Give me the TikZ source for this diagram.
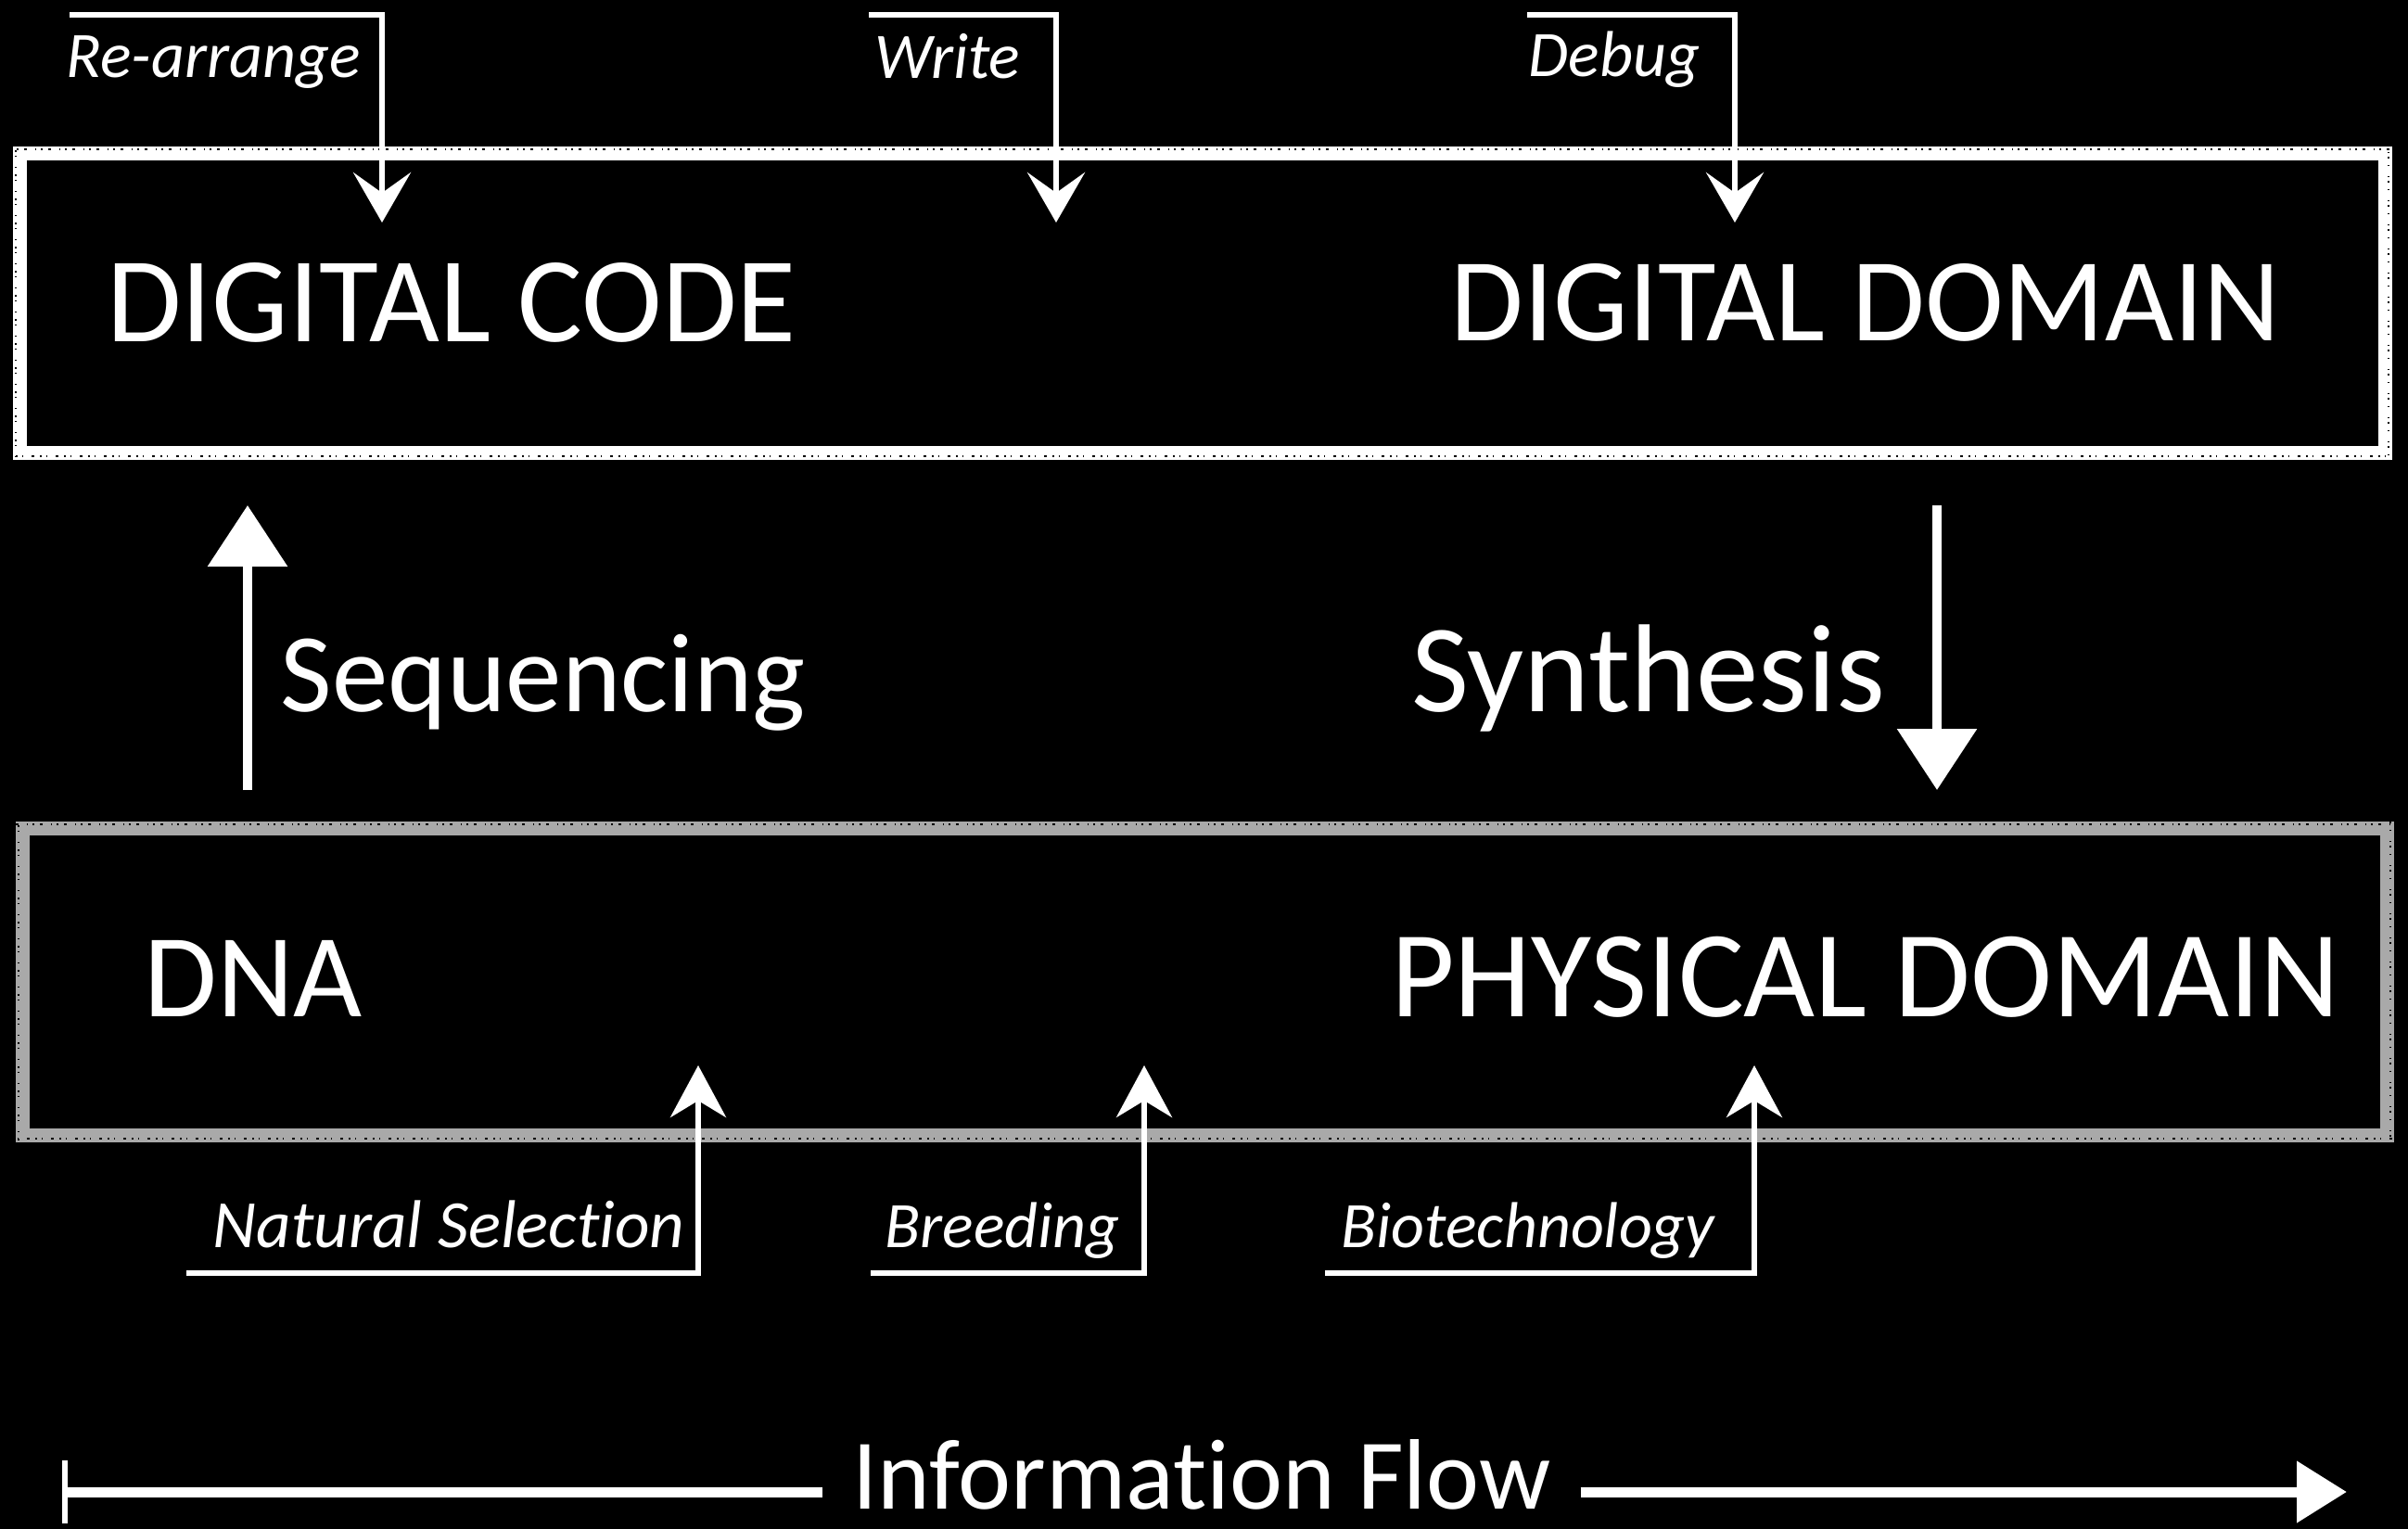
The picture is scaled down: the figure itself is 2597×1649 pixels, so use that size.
\documentclass[tikz,border=0pt]{standalone}
\usepackage{fontspec}
\setmainfont[Ligatures={NoCommon}]{Carlito}
\usetikzlibrary{arrows.meta}
\definecolor{chalkgray}{HTML}{A9A9A9}
\tikzset{
  bigtxt/.style={text=white, inner sep=0pt, anchor=base, font=\fontsize{128}{128}\selectfont},
  smalltxt/.style={text=white, inner sep=0pt, anchor=base, font=\fontsize{70}{70}\selectfont\itshape},
  flowtxt/.style={text=white, inner ysep=0pt, inner xsep=32pt, anchor=base, font=\fontsize{108}{108}\selectfont},
  boxtop/.style={draw=white, line width=15pt, minimum width=2551pt, minimum height=323pt, inner sep=0pt},
  boxbot/.style={draw=chalkgray, line width=15pt, minimum width=2550pt, minimum height=331pt, inner sep=0pt},
  grain/.style={draw=black, line width=1.6pt, dash pattern=on 2pt off 5pt on 1pt off 9pt on 3pt off 6pt},
  grainb/.style={draw=black, line width=1.2pt, dash pattern=on 1pt off 7pt on 2pt off 4pt on 1pt off 11pt},
  thin arrow/.style={draw=white, line width=6pt, line join=miter, -{Stealth[length=54pt,width=62pt,inset=22pt]}},
  up arrow/.style={draw=white, line width=6pt, line join=miter, -{Stealth[length=56pt,width=60pt,inset=18pt]}},
  main arrow/.style={draw=white, line width=10pt, -{Triangle[length=66pt,width=84pt]}},
  flow line/.style={draw=white, line width=11pt},
}
\begin{document}
\begin{tikzpicture}[x=1pt, y=-1pt]
\fill[black] (0,0) rectangle (2597,1649);
\useasboundingbox (0,0) rectangle (2597,1649);

% boxes
\node[boxtop] (topbox) at (1296.5,326.5) {};
\node[boxbot] (botbox) at (1299,1058.5) {};
% chalk grain on the box edges
\foreach \b/\d in {topbox/3.5, botbox/3.5}{
  \draw[grain] ([shift={(-\d,\d)}]\b.north west) rectangle ([shift={(\d,-\d)}]\b.south east);
  \draw[grainb] ([shift={(\d,-\d)}]\b.north west) rectangle ([shift={(-\d,\d)}]\b.south east);
}

% box texts
\node[bigtxt, font=\fontsize{131}{131}\selectfont] (dcode) at (487,368) {DIGITAL CODE};
\node[bigtxt] (ddom) at (2012,367) {DIGITAL DOMAIN};
\node[bigtxt] (dna) at (273,1096) {DNA};
\node[bigtxt, font=\fontsize{133}{133}\selectfont] (pdom) at (2012,1096) {PHYSICAL DOMAIN};

% middle labels
\node[bigtxt, font=\fontsize{121}{121}\selectfont] (seq) at (586,767) {Sequencing};
\node[bigtxt, font=\fontsize{135}{135}\selectfont] (syn) at (1778,767) {Synthesis};

% top small labels
\node[smalltxt] (rearr) at (230,83) {Re-arrange};
\node[smalltxt] (write) at (1022,84) {Write};
\node[smalltxt] (debug) at (1741,82) {Debug};

% bottom small labels
\node[smalltxt, font=\fontsize{73}{73}\selectfont\itshape] (natsel) at (484,1345) {Natural Selection};
\node[smalltxt] (breed) at (1081,1345) {Breeding};
\node[smalltxt] (biotech) at (1648,1345) {Biotechnology};

% info flow label
\node[flowtxt] (info) at (1296,1627) {Information Flow};

% top arrows
\coordinate (ra1) at (75,16);
\coordinate (ra2) at (412,16);
\coordinate (ra3) at (412,240);
\draw[thin arrow] (ra1) -- (ra2) -- (ra3);
\coordinate (wr1) at (937,16);
\coordinate (wr2) at (1139,16);
\coordinate (wr3) at (1139,240);
\draw[thin arrow] (wr1) -- (wr2) -- (wr3);
\coordinate (db1) at (1647,16);
\coordinate (db2) at (1871,16);
\coordinate (db3) at (1871,240);
\draw[thin arrow] (db1) -- (db2) -- (db3);

% bottom arrows
\coordinate (ns1) at (201,1373);
\coordinate (ns2) at (753,1373);
\coordinate (ns3) at (753,1149);
\draw[up arrow] (ns1) -- (ns2) -- (ns3);
\coordinate (br1) at (939,1373);
\coordinate (br2) at (1234,1373);
\coordinate (br3) at (1234,1149);
\draw[up arrow] (br1) -- (br2) -- (br3);
\coordinate (bt1) at (1429,1373);
\coordinate (bt2) at (1892,1373);
\coordinate (bt3) at (1892,1149);
\draw[up arrow] (bt1) -- (bt2) -- (bt3);

% sequencing / synthesis
\coordinate (seqS) at (267,852);
\coordinate (seqE) at (267,545);
\draw[main arrow] (seqS) -- (seqE);
\coordinate (synS) at (2089,545);
\coordinate (synE) at (2089,852);
\draw[main arrow] (synS) -- (synE);

% information flow
\coordinate (flowL) at (67,1609);
\coordinate (flowR) at (2531,1609);
\draw[flow line, {Bar[width=68pt,line width=6pt]}-] (flowL) -- (info.west |- flowL);
\draw[flow line, -{Triangle[length=54pt,width=64pt]}] (info.east |- flowR) -- (flowR);
\end{tikzpicture}
\end{document}
